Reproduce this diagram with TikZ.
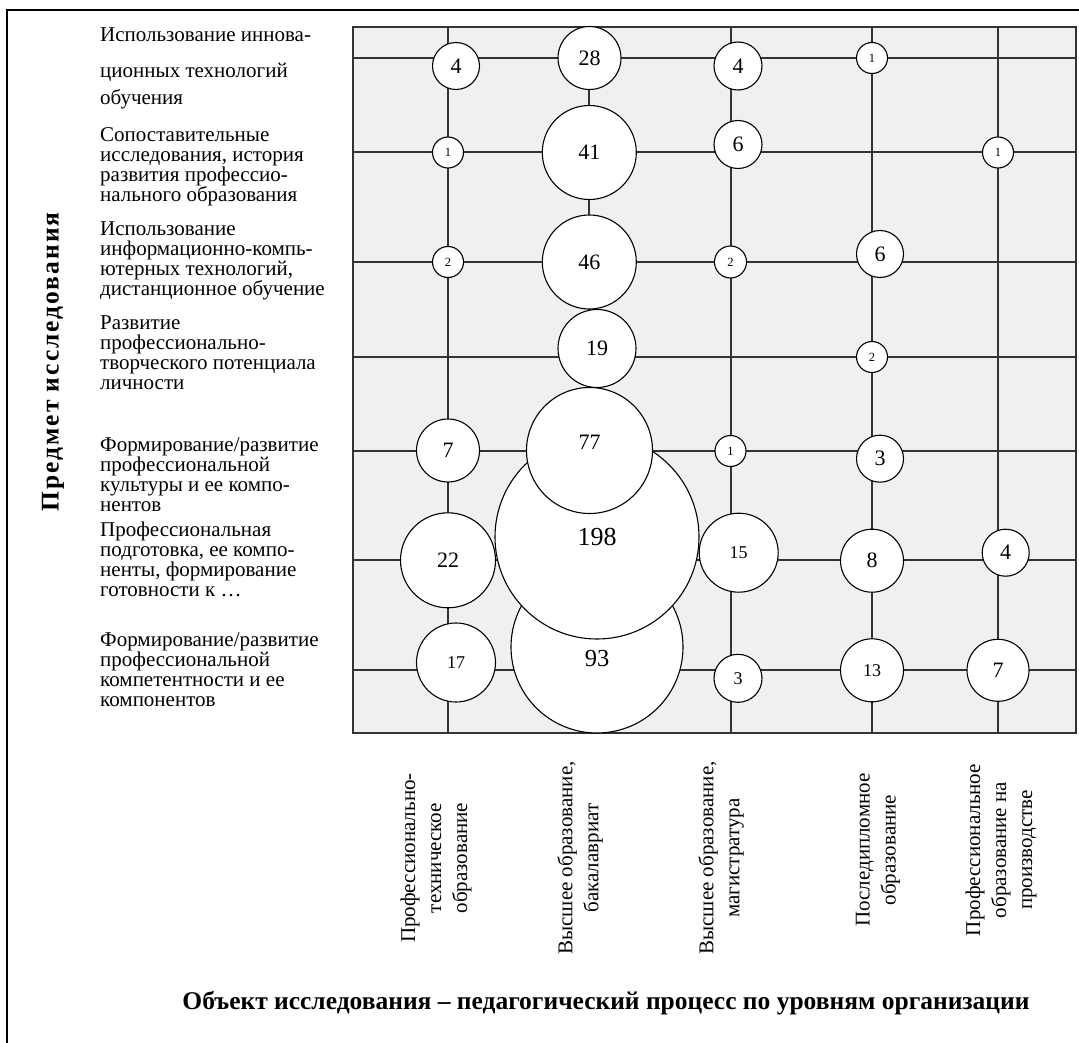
\documentclass[tikz,border=0pt]{standalone}
\usepackage{fontspec}
\setmainfont{Liberation Serif}
\usepackage{tikz}
\definecolor{panelgray}{HTML}{F0F0F0}
\definecolor{linegray}{HTML}{333333}

\begin{document}
\begin{tikzpicture}[
    x=1pt, y=-1pt,
    frame line/.style={line width=1.6pt},
    panel/.style={fill=panelgray, draw=linegray, line width=1.5pt},
    grid line/.style={draw=linegray, line width=1.2pt},
    bubble/.style={circle, draw=black, fill=white, line width=1.1pt, inner sep=0pt, font=\fontsize{22}{22}\selectfont},
    small bubble/.style={bubble, font=\fontsize{12.5}{12.5}\selectfont},
    mid bubble/.style={bubble, font=\fontsize{18}{18}\selectfont},
    row label/.style={anchor=north west, align=left, inner sep=0pt, font=\fontsize{21}{20}\selectfont},
    col label/.style={rotate=90, align=center, inner sep=0pt, font=\fontsize{21}{26}\selectfont},
    axis title/.style={inner sep=0pt, font=\fontsize{25.5}{25.5}\selectfont\bfseries}
    ]
    \useasboundingbox (0,0) rectangle (1079,1043);

    % outer frame
    \draw[frame line] (7,1043) -- (7,10) -- (1079,10);

    % panel and grid
    \coordinate (NW) at (353,27);
    \coordinate (SE) at (1076,733);
    \draw[panel] (NW) rectangle (SE);
    \foreach \y in {58,152,262,357,451,560,670}
        \draw[grid line] (353,\y) -- (1076,\y);
    \foreach \x in {448,589,731,872,998}
        \draw[grid line] (\x,27) -- (\x,733);
    \draw[panel, fill=none] (NW) rectangle (SE);

    % row 1
    \node[bubble, minimum size=47] (r1c1) at (456,66) {4};
    \node[bubble, minimum size=63] (r1c2) at (589.5,58) {28};
    \node[bubble, minimum size=48] (r1c3) at (738,66) {4};
    \node[small bubble, minimum size=31] (r1c4) at (872,58) {1};
    % row 2
    \node[small bubble, minimum size=31] (r2c1) at (448,152.5) {1};
    \node[bubble, minimum size=94] (r2c2) at (589.3,152.5) {41};
    \node[bubble, minimum size=48] (r2c3) at (738,144.5) {6};
    \node[small bubble, minimum size=31] (r2c5) at (998,152.5) {1};
    % row 3
    \node[small bubble, minimum size=31] (r3c1) at (448,262) {2};
    \node[bubble, minimum size=94] (r3c2) at (589.3,262) {46};
    \node[small bubble, minimum size=32] (r3c3) at (730.5,262) {2};
    \node[bubble, minimum size=47] (r3c4) at (880,254) {6};
    % row 4
    \node[bubble, minimum size=78] (r4c2) at (597,348.5) {19};
    \node[small bubble, minimum size=31] (r4c4) at (872,357) {2};
    % row 7 (under 198)
    \node[bubble, minimum size=79, font=\fontsize{18}{18}\selectfont] (r7c1) at (456,662.5) {17};
    \node[bubble, minimum size=172, label={[font=\fontsize{24.5}{24.5}\selectfont, yshift=-12pt]center:93}] (r7c2) at (597,647) {};
    \node[mid bubble, minimum size=48] (r7c3) at (738,678.3) {3};
    \node[mid bubble, minimum size=63] (r7c4) at (872,670.3) {13};
    \node[bubble, minimum size=62] (r7c5) at (998,670.3) {7};
    % row 6
    \node[bubble, minimum size=95] (r6c1) at (448,560.3) {22};
    \node[bubble, minimum size=204, font=\fontsize{26}{26}\selectfont] (r6c2) at (597,537) {198};
    \node[mid bubble, minimum size=79] (r6c3) at (738.7,552.7) {15};
    \node[bubble, minimum size=63] (r6c4) at (872,560.7) {8};
    \node[bubble, minimum size=47] (r6c5) at (1005.7,552.7) {4};
    % row 5 (over 198)
    \node[bubble, minimum size=63] (r5c1) at (448,450.5) {7};
    \node[bubble, minimum size=126, label={[font=\fontsize{22}{22}\selectfont, yshift=8pt]center:77}] (r5c2) at (589.5,450.5) {};
    \node[small bubble, minimum size=31] (r5c3) at (730.5,451) {1};
    \node[bubble, minimum size=47] (r5c4) at (880,458.7) {3};

    % subjects of research
    \node[row label] (s1) at (100,28) {Использование иннова-\\[16pt]ционных технологий\\[7pt]обучения};
    \node[row label] (s2) at (100,127.5) {Сопоставительные\\исследования, история\\развития профессио-\\нального образования};
    \node[row label] (s3) at (100,222) {Использование\\информационно-компь-\\ютерных технологий,\\дистанционное обучение};
    \node[row label] (s4) at (100,316) {Развитие\\профессионально-\\творческого потенциала\\личности};
    \node[row label] (s5) at (100,437) {Формирование/развитие\\профессиональной\\культуры и ее компо-\\нентов};
    \node[row label] (s6) at (100,522) {Профессиональная\\подготовка, ее компо-\\ненты, формирование\\готовности к …};
    \node[row label] (s7) at (100,632) {Формирование/развитие\\профессиональной\\компетентности и ее\\компонентов};

    % levels of education
    \node[col label] (o1) at (436,858) {Профессионально-\\техническое\\образование};
    \node[col label] (o2) at (580,858) {Высшее образование,\\бакалавриат};
    \node[col label] (o3) at (721,858) {Высшее образование,\\магистратура};
    \node[col label] (o4) at (878,850) {Последипломное\\образование};
    \node[col label] (o5) at (1001,850) {Профессиональное\\образование на\\производстве};

    % axis titles
    \node[axis title, rotate=90] (subject) at (53,362) {\addfontfeature{LetterSpace=8}Предмет исследования};
    \node[axis title] (object) at (606,1003) {Объект исследования – педагогический процесс по уровням организации};
\end{tikzpicture}
\end{document}
